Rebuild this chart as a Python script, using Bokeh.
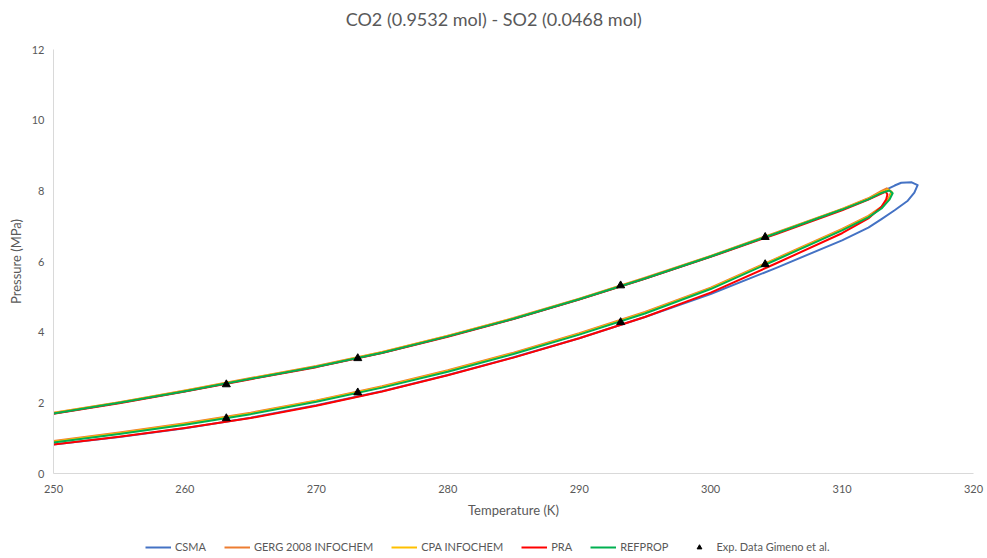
from bokeh.plotting import figure
from bokeh.models import Range1d, Legend, LegendItem, FixedTicker, Label
from bokeh.layouts import column
from bokeh.embed import file_html
from bokeh.resources import INLINE

# ---- data ----
t_grid = [250, 255, 260, 265, 270, 275, 280, 285, 290, 295, 300, 305, 310, 312]

# REFPROP
refprop_dew = [0.88, 1.12, 1.38, 1.68, 2.03, 2.43, 2.88, 3.38, 3.93, 4.53, 5.22, 6.05, 6.88, 7.25]
refprop_bub = [1.70, 2.00, 2.33, 2.68, 3.02, 3.42, 3.88, 4.38, 4.93, 5.52, 6.14, 6.80, 7.47, 7.76]
refprop_tip_t = [313.0, 313.6, 313.85, 313.6, 313.0]
refprop_tip_p = [7.50, 7.75, 7.93, 8.01, 7.94]

# GERG 2008 INFOCHEM
gerg_dew = [0.92, 1.16, 1.42, 1.72, 2.07, 2.47, 2.92, 3.42, 3.97, 4.57, 5.26, 6.09, 6.92, 7.29]
gerg_bub = [1.72, 2.02, 2.35, 2.70, 3.04, 3.44, 3.90, 4.40, 4.95, 5.54, 6.16, 6.82, 7.49, 7.79]
gerg_tip_t = [313.0, 313.55, 313.75, 313.4, 313.0]
gerg_tip_p = [7.55, 7.80, 7.98, 8.07, 8.00]

# CPA INFOCHEM
cpa_dew = [0.90, 1.14, 1.40, 1.70, 2.05, 2.45, 2.90, 3.40, 3.95, 4.55, 5.24, 6.07, 6.90, 7.27]
cpa_bub = [1.71, 2.01, 2.34, 2.69, 3.03, 3.43, 3.89, 4.39, 4.94, 5.53, 6.15, 6.81, 7.48, 7.77]
cpa_tip_t = [313.0, 313.6, 313.8, 313.5, 313.0]
cpa_tip_p = [7.52, 7.78, 7.96, 8.03, 7.96]

# PRA
pra_dew = [0.82, 1.04, 1.29, 1.57, 1.92, 2.32, 2.78, 3.28, 3.83, 4.43, 5.12, 5.95, 6.80, 7.22]
pra_bub = [1.69, 1.99, 2.32, 2.67, 3.01, 3.41, 3.87, 4.37, 4.92, 5.51, 6.13, 6.78, 7.45, 7.75]
pra_tip_t = [313.0, 313.35, 313.45, 313.3, 313.0]
pra_tip_p = [7.55, 7.75, 7.90, 7.98, 7.92]

# CSMA
csma_dew = [0.82, 1.03, 1.28, 1.58, 1.93, 2.33, 2.79, 3.29, 3.83, 4.43, 5.08, 5.82, 6.60, 6.96]
csma_bub = [1.70, 2.00, 2.33, 2.68, 3.02, 3.42, 3.88, 4.38, 4.93, 5.52, 6.14, 6.80, 7.47, 7.78]
csma_tip_t = [313.0, 314.0, 315.0, 315.5, 315.75, 315.3, 314.5, 314.0, 313.0]
csma_tip_p = [7.20, 7.45, 7.72, 7.95, 8.16, 8.24, 8.23, 8.15, 7.97]

# Exp. Data Gimeno et al.
exp_t = [263.15, 273.15, 293.15, 304.15, 263.15, 273.15, 293.15, 304.15]
exp_p = [2.52, 3.26, 5.32, 6.69, 1.56, 2.29, 4.28, 5.92]

x_ticks = [250, 260, 270, 280, 290, 300, 310, 320]
y_ticks = [0, 2, 4, 6, 8, 10, 12]

series = [
    ("CSMA", "#4472C4", csma_dew, csma_bub, csma_tip_t, csma_tip_p),
    ("GERG 2008 INFOCHEM", "#ED7D31", gerg_dew, gerg_bub, gerg_tip_t, gerg_tip_p),
    ("CPA INFOCHEM", "#FFC000", cpa_dew, cpa_bub, cpa_tip_t, cpa_tip_p),
    ("PRA", "#FF0000", pra_dew, pra_bub, pra_tip_t, pra_tip_p),
    ("REFPROP", "#00B050", refprop_dew, refprop_bub, refprop_tip_t, refprop_tip_p),
]
exp_label = "Exp. Data Gimeno et al."
title_text = "CO2 (0.9532 mol) - SO2 (0.0468 mol)"

FONT = "Lato"
GREY = "#595959"

# ---- title strip ----
tt_fig = figure(width=987, height=36, output_backend="svg", toolbar_location=None,
                x_range=Range1d(250, 320), y_range=Range1d(0, 1),
                x_axis_location=None, y_axis_location=None,
                min_border_left=0, min_border_right=0, min_border_top=0, min_border_bottom=0)
tt_fig.grid.visible = False
tt_fig.outline_line_color = None
tt_fig.add_layout(Label(x=283.5, y=0.5, text=title_text, text_align="center",
                        text_baseline="middle", text_font=FONT, text_font_size="18px",
                        text_color=GREY))

# ---- main chart ----
p = figure(width=987, height=498, output_backend="svg", toolbar_location=None,
           x_range=Range1d(250, 320), y_range=Range1d(0, 12),
           min_border_left=53, min_border_right=14, min_border_top=13, min_border_bottom=61)
p.outline_line_color = None
p.xgrid.grid_line_color = None
p.ygrid.grid_line_color = None

curves = []
for name, color, dew, bub, tt, tp in series:
    xs = list(t_grid) + list(tt) + list(reversed(t_grid))
    ys = list(dew) + list(tp) + list(reversed(bub))
    curves.append((name, color, xs, ys))
    p.line(xs, ys, line_color=color, line_width=2, line_join="round")

p.scatter(exp_t, exp_p, marker="triangle", size=8, fill_color="black", line_color="black")

for ax in (p.xaxis[0], p.yaxis[0]):
    ax.axis_line_color = "#D9D9D9"
    ax.axis_line_width = 1
    ax.major_tick_line_color = None
    ax.minor_tick_line_color = None
    ax.major_tick_out = 0
    ax.major_tick_in = 0
    ax.major_label_text_font = FONT
    ax.major_label_text_font_size = "11px"
    ax.major_label_text_color = GREY
    ax.axis_label_text_font = FONT
    ax.axis_label_text_font_size = "13px"
    ax.axis_label_text_font_style = "normal"
    ax.axis_label_text_color = GREY

p.xaxis.ticker = FixedTicker(ticks=x_ticks)
p.yaxis.ticker = FixedTicker(ticks=y_ticks)
p.xaxis.axis_label = "Temperature (K)"
p.yaxis.axis_label = "Pressure (MPa)"
p.xaxis.major_label_standoff = 11
p.yaxis.major_label_standoff = 9
p.xaxis.axis_label_standoff = 6

# ---- legend strip (same series, drawn outside its visible range) ----
lg = figure(width=987, height=24, output_backend="svg", toolbar_location=None,
            x_range=Range1d(0, 1), y_range=Range1d(0, 1),
            x_axis_location=None, y_axis_location=None,
            min_border_left=0, min_border_right=0, min_border_top=0, min_border_bottom=0)
lg.grid.visible = False
lg.outline_line_color = None

items = []
for name, color, xs, ys in curves:
    r = lg.line(xs, ys, line_color=color, line_width=2)
    items.append(LegendItem(label=name, renderers=[r]))
rs = lg.scatter(exp_t, exp_p, marker="triangle", size=8, fill_color="black", line_color="black")
items.append(LegendItem(label=exp_label, renderers=[rs]))

legend = Legend(items=items, orientation="horizontal", location=(92, 5),
                border_line_color=None, background_fill_alpha=0,
                label_text_font=FONT, label_text_font_size="11px", label_text_color=GREY,
                glyph_width=26, glyph_height=12, label_standoff=4, spacing=18,
                padding=0, margin=0)
lg.add_layout(legend)

layout = column(tt_fig, p, lg, spacing=0)
open("out.html", "w").write(file_html(layout, INLINE))
